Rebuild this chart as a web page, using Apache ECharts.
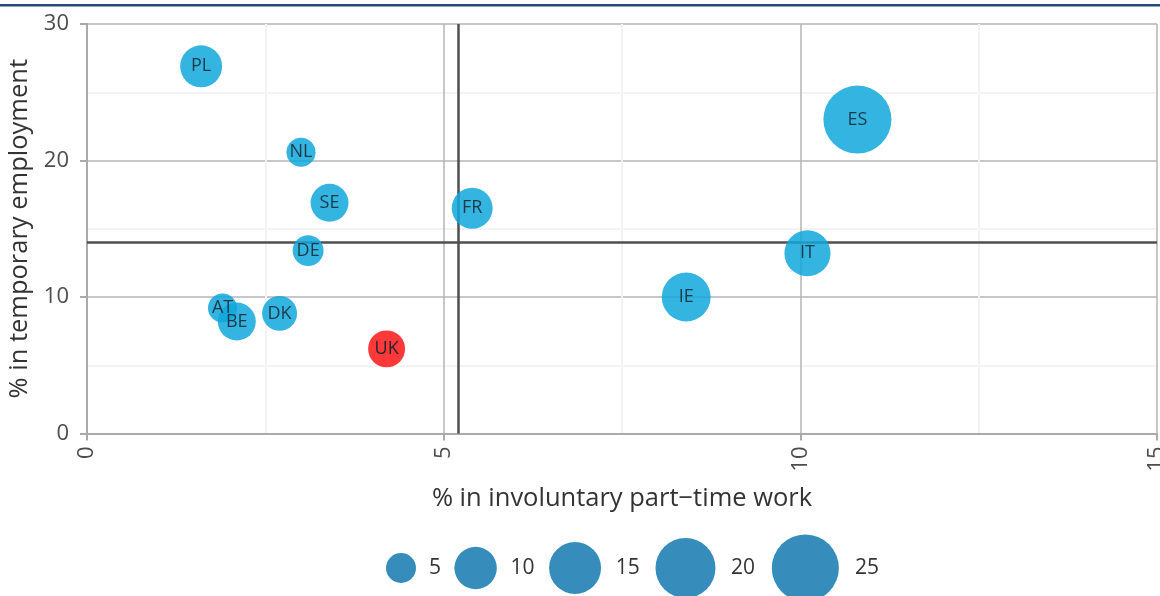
<!DOCTYPE html>
<html>
<head>
<meta charset="utf-8">
<script src="https://cdn.jsdelivr.net/npm/echarts@6/dist/echarts.min.js"></script>
<style>
  html, body { margin: 0; padding: 0; background: #fff; }
  #chart { width: 1160px; height: 596px; }
</style>
</head>
<body>
<div id="chart"></div>
<script>
// ---- data ----
const countries     = ['PL', 'NL', 'SE', 'FR', 'DE', 'AT', 'BE', 'DK', 'UK', 'IE', 'IT', 'ES'];
const involuntaryPT = [1.6, 3.0, 3.4, 5.4, 3.1, 1.9, 2.1, 2.7, 4.2, 8.4, 10.1, 10.8];
const temporaryEmp  = [26.9, 20.6, 16.9, 16.5, 13.4, 9.2, 8.2, 8.8, 6.2, 10.0, 13.2, 23.0];
const bubbleValue   = [9.8, 4.7, 8.0, 9.3, 5.3, 4.7, 8.0, 6.8, 7.6, 13.3, 11.8, 25.7];
const highlighted   = ['UK'];
const refX = 5.2;
const refY = 14;
const legendValues = [5, 10, 15, 20, 25];
const xTitle = '% in involuntary part\u2212time work';
const yTitle = '% in temporary employment';

// ---- styling / scales ----
const FONT = 'Open Sans';
const sizeScale = v => Math.sqrt(v * 180); // area proportional to value (diameter in px)

const seriesData = countries.map((c, i) => ({
  name: c,
  value: [involuntaryPT[i], temporaryEmp[i], bubbleValue[i]],
  itemStyle: highlighted.includes(c)
    ? { color: '#ff2e2e', opacity: 0.95 }
    : { color: '#11a7db', opacity: 0.85 }
}));

// size legend built from legendValues through the same size scale
const legendGraphics = [];
(function () {
  let cursor = 386;
  const cy = 568;
  legendValues.forEach(v => {
    const d = sizeScale(v);
    legendGraphics.push({
      type: 'circle', shape: { cx: cursor + d / 2, cy: cy, r: d / 2 },
      style: { fill: '#368dbb' }
    });
    const lx = cursor + d + Math.max(13, 0.1 * d + 9.5);
    const label = String(v);
    legendGraphics.push({
      type: 'text', x: lx, y: cy,
      style: { text: label, font: '21px "' + FONT + '"', fill: '#333', verticalAlign: 'middle', align: 'left' }
    });
    cursor = lx + label.length * 11.5 + 10 + 0.13 * d;
  });
})();

const chart = echarts.init(document.getElementById('chart'), null, { renderer: 'canvas' });
chart.setOption({
  animation: false,
  textStyle: { fontFamily: FONT },
  grid: { left: 87, right: 3, top: 24, bottom: 162.5, containLabel: false, outerBoundsMode: 'none' },
  xAxis: {
    type: 'value', min: 0, max: 15, interval: 5,
    name: xTitle, nameLocation: 'middle', nameGap: 52,
    nameTextStyle: { fontSize: 25.5, color: '#333', fontFamily: FONT },
    axisLine: { show: true, onZero: false, lineStyle: { color: '#aaaaaa', width: 2 } },
    axisTick: { show: true, length: 7, lineStyle: { color: '#aaaaaa', width: 2 } },
    axisLabel: { rotate: 90, fontSize: 22, color: '#4d4d4d', margin: 13, fontFamily: FONT, showMaxLabel: true },
    splitLine: { show: true, lineStyle: { color: '#b5b5b5', width: 1.5 } },
    minorTick: { show: false, splitNumber: 2 },
    minorSplitLine: { show: true, lineStyle: { color: '#f3f3f3', width: 2 } }
  },
  yAxis: {
    type: 'value', min: 0, max: 30, interval: 10,
    name: yTitle, nameLocation: 'middle', nameGap: 47,
    nameTextStyle: { fontSize: 25.5, color: '#333', fontFamily: FONT },
    axisLine: { show: true, onZero: false, lineStyle: { color: '#aaaaaa', width: 2 } },
    axisTick: { show: true, length: 7, lineStyle: { color: '#aaaaaa', width: 2 } },
    axisLabel: { fontSize: 22, color: '#4d4d4d', margin: 18, fontFamily: FONT },
    splitLine: { show: true, lineStyle: { color: '#b5b5b5', width: 1.5 } },
    minorTick: { show: false, splitNumber: 2 },
    minorSplitLine: { show: true, lineStyle: { color: '#f3f3f3', width: 2 } }
  },
  series: [{
    type: 'scatter',
    data: seriesData,
    symbol: 'circle',
    symbolSize: d => sizeScale(d[2]),
    z: 3,
    label: {
      show: true, position: 'inside', formatter: p => p.name,
      fontSize: 18, color: '#16242e', fontFamily: FONT
    },
    emphasis: { disabled: true },
    markLine: {
      silent: true, symbol: 'none', animation: false,
      label: { show: false },
      lineStyle: { color: '#4f4f4f', width: 2.5, type: 'solid' },
      data: [{ xAxis: refX }, { yAxis: refY }],
      z: 2
    }
  }],
  graphic: [
    { type: 'rect', shape: { x: 0, y: 4, width: 1160, height: 2.5 }, style: { fill: '#24497a' } }
  ].concat(legendGraphics)
});
</script>
</body>
</html>
